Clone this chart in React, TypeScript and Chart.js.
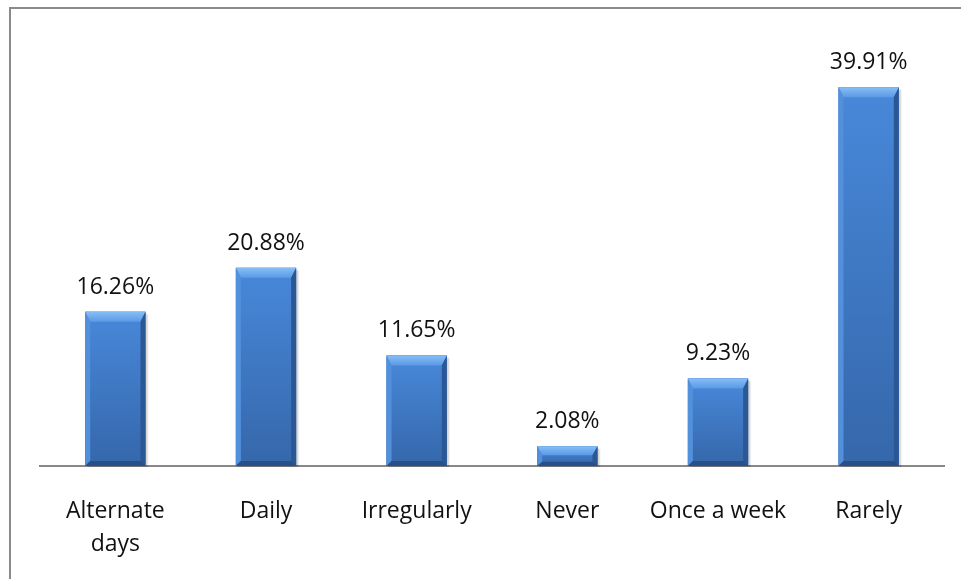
import React, { useEffect, useRef } from "react";
import { Chart, registerables } from "chart.js";

Chart.register(...registerables);

// Frequency categories and their share of respondents (%)
const categories: (string | string[])[] = [
  ["Alternate", "days"],
  "Daily",
  "Irregularly",
  "Never",
  "Once a week",
  "Rarely",
];
const shares: number[] = [16.26, 20.88, 11.65, 2.08, 9.23, 39.91];
const valueLabels: string[] = ["16.26%", "20.88%", "11.65%", "2.08%", "9.23%", "39.91%"];

const FONT = "'Open Sans', 'Noto Sans', sans-serif";

// Outer frame drawn along the top and left edges of the canvas
const framePlugin = {
  id: "frame",
  beforeDraw(chart: any) {
    const ctx = chart.ctx;
    ctx.save();
    ctx.fillStyle = "#ffffff";
    ctx.fillRect(0, 0, chart.width, chart.height);
    ctx.fillStyle = "#8a8a8a";
    ctx.fillRect(9, 7, chart.width - 9, 2);
    ctx.fillRect(9, 7, 2, chart.height - 7);
    ctx.restore();
  },
};

// Bevelled, shaded bar faces plus value labels above every bar
const bevelPlugin = {
  id: "bevel",
  beforeDatasetsDraw(chart: any) {
    const ctx = chart.ctx;
    const meta = chart.getDatasetMeta(0);
    ctx.save();
    meta.data.forEach((bar: any) => {
      const w = bar.width;
      const x0 = bar.x - w / 2;
      const top = bar.y;
      const base = bar.base;
      ctx.fillStyle = "rgba(0,0,0,0.10)";
      ctx.fillRect(x0 + 2, top + 2, w, base - top - 1);
      ctx.fillStyle = "rgba(0,0,0,0.06)";
      ctx.fillRect(x0 + 3, top + 3, w, base - top - 2);
    });
    ctx.restore();
  },
  afterDatasetsDraw(chart: any) {
    const ctx = chart.ctx;
    const meta = chart.getDatasetMeta(0);
    ctx.save();
    meta.data.forEach((bar: any, i: number) => {
      const w = bar.width;
      const x0 = bar.x - w / 2;
      const x1 = bar.x + w / 2;
      const top = bar.y;
      const base = bar.base;
      const h = base - top;
      const t = Math.min(10, h * 0.45);
      const s = 5;
      const b = Math.min(5, h * 0.22);

      const face = ctx.createLinearGradient(0, top, 0, base);
      face.addColorStop(0, "#4888da");
      face.addColorStop(1, "#3567aa");
      ctx.fillStyle = face;
      ctx.fillRect(x0, top, w, h);

      const poly = (pts: number[][], fill: any) => {
        ctx.beginPath();
        ctx.moveTo(pts[0][0], pts[0][1]);
        for (let k = 1; k < pts.length; k++) ctx.lineTo(pts[k][0], pts[k][1]);
        ctx.closePath();
        ctx.fillStyle = fill;
        ctx.fill();
      };

      const topGrad = ctx.createLinearGradient(0, top, 0, top + t);
      topGrad.addColorStop(0, "#86bef6");
      topGrad.addColorStop(1, "#5a99e6");
      poly([[x0, top], [x1, top], [x1 - s, top + t], [x0 + s, top + t]], topGrad);
      poly([[x0, top], [x0 + s, top + t], [x0 + s, base - b], [x0, base]], "#5390dc");
      poly([[x1, top], [x1 - s, top + t], [x1 - s, base - b], [x1, base]], "#2b5795");
      poly([[x0, base], [x0 + s, base - b], [x1 - s, base - b], [x1, base]], "#274f88");

      ctx.fillStyle = "#111111";
      ctx.font = `23px ${FONT}`;
      ctx.textAlign = "center";
      ctx.textBaseline = "alphabetic";
      ctx.fillText(valueLabels[i], bar.x, top - 18);
    });
    ctx.restore();
  },
};

export default function App() {
  const canvasRef = useRef<HTMLCanvasElement | null>(null);

  useEffect(() => {
    if (!canvasRef.current) return;
    const chart = new Chart(canvasRef.current, {
      type: "bar",
      data: {
        labels: categories,
        datasets: [
          {
            data: shares,
            backgroundColor: "#3f78c6",
            borderWidth: 0,
            categoryPercentage: 1,
            barPercentage: 0.4,
          },
        ],
      },
      options: {
        responsive: false,
        animation: false,
        layout: { padding: { left: 40, right: 17, top: 39, bottom: 0 } },
        plugins: {
          legend: { display: false },
          tooltip: { enabled: false },
        },
        scales: {
          x: {
            grid: { display: false, drawTicks: false },
            border: { display: true, color: "#888888", width: 2 },
            ticks: {
              color: "#111111",
              padding: 29,
              maxRotation: 0,
              autoSkip: false,
              font: { family: FONT, size: 23, lineHeight: 1.43 },
            },
            afterFit(scale: any) {
              scale.height = 113;
            },
          },
          y: {
            display: false,
            min: 0,
            max: 45,
          },
        },
      },
      plugins: [framePlugin, bevelPlugin],
    });
    return () => chart.destroy();
  }, []);

  return (
    <div style={{ position: "absolute", left: 0, top: 0, width: 961, height: 579 }}>
      <canvas ref={canvasRef} width={961} height={579} style={{ display: "block" }} />
    </div>
  );
}
